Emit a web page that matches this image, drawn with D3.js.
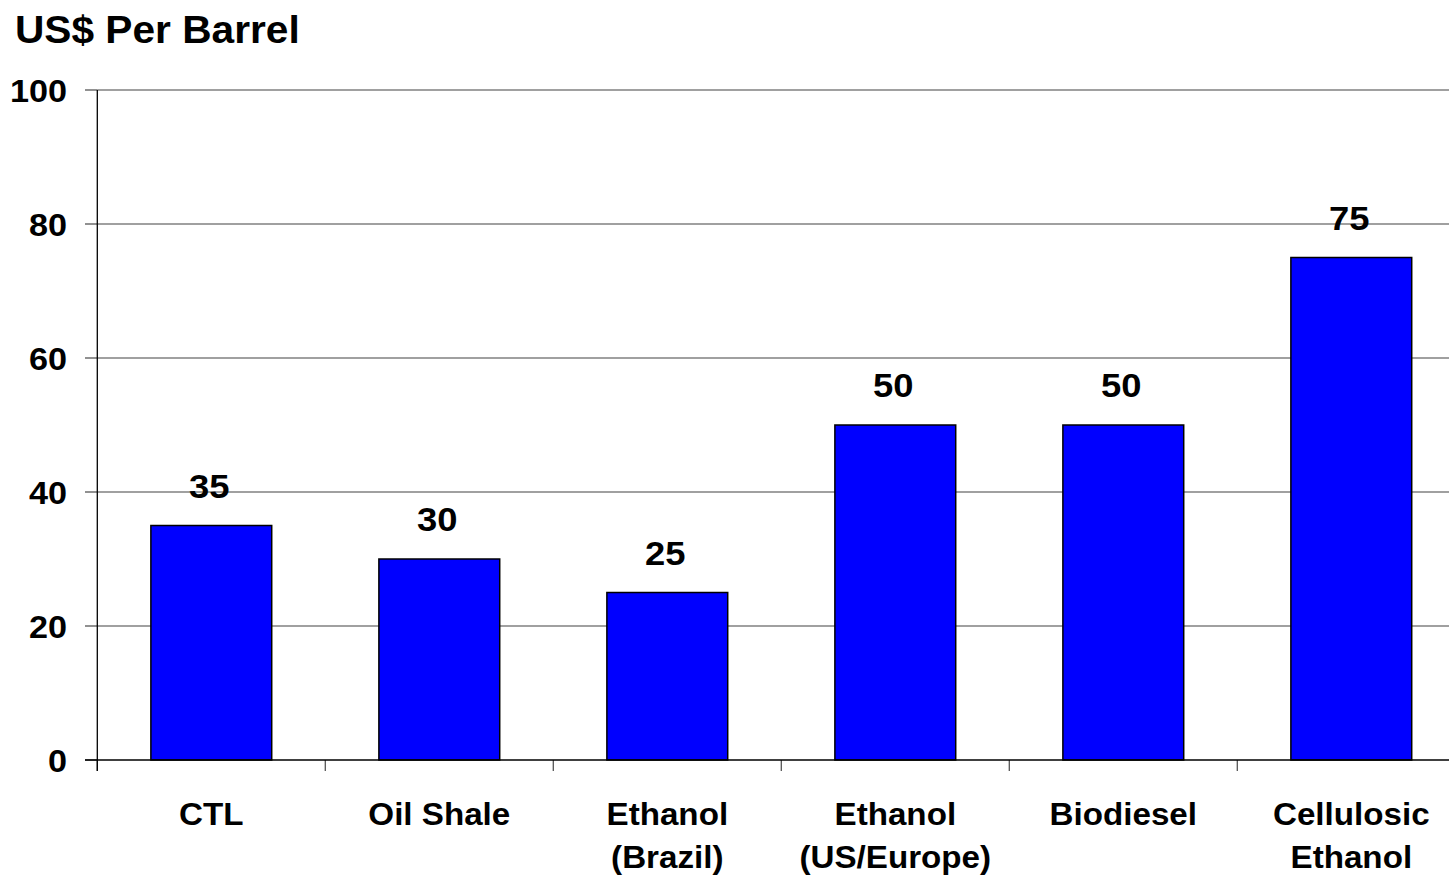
<!DOCTYPE html>
<html>
<head>
<meta charset="utf-8">
<script src="https://cdn.jsdelivr.net/npm/d3@7"></script>
<style>
  html, body { margin: 0; padding: 0; background: #fff; }
  svg { display: block; }
  text { font-family: "Liberation Sans", Arial, sans-serif; font-weight: bold; fill: #000; }
</style>
</head>
<body>
<svg id="chart" width="1449" height="877"></svg>
<script>
// Estimated production cost of alternative fuels, US$ per barrel
const categories = [
  ["CTL"],
  ["Oil Shale"],
  ["Ethanol", "(Brazil)"],
  ["Ethanol", "(US/Europe)"],
  ["Biodiesel"],
  ["Cellulosic", "Ethanol"]
];
const values = [35, 30, 25, 50, 50, 75];
const yTicks = [0, 20, 40, 60, 80, 100];
const yTitle = "US$ Per Barrel";

const svg = d3.select("#chart");
const stretch = 1.07;   // fonts are drawn slightly wide

const margin = { left: 97.3, top: 90, bottom: 760 };
const bandW = 228;
const x = d3.scaleBand()
  .domain(d3.range(categories.length))
  .range([margin.left, margin.left + bandW * categories.length])
  .paddingInner(0)
  .paddingOuter(0);
const y = d3.scaleLinear().domain([0, 100]).range([margin.bottom, margin.top]);
const barW = x.bandwidth() * 0.53;

function stretchedText(sel, px, py, size, anchor, str) {
  return sel.append("text")
    .attr("transform", `translate(${px},${py}) scale(${stretch},1)`)
    .attr("text-anchor", anchor)
    .attr("font-size", size)
    .text(str);
}

// horizontal gridlines
svg.append("g").selectAll("line")
  .data(yTicks.filter(d => d > 0))
  .join("line")
  .attr("x1", margin.left).attr("x2", 1449)
  .attr("y1", d => y(d)).attr("y2", d => y(d))
  .attr("stroke", "#808080").attr("stroke-width", 1.3);

// y tick marks
svg.append("g").selectAll("line")
  .data(yTicks)
  .join("line")
  .attr("x1", 85).attr("x2", margin.left)
  .attr("y1", d => y(d)).attr("y2", d => y(d))
  .attr("stroke", "#555").attr("stroke-width", 1.3);

// x tick marks between categories
svg.append("g").selectAll("line")
  .data(d3.range(categories.length + 1))
  .join("line")
  .attr("x1", i => margin.left + i * x.step())
  .attr("x2", i => margin.left + i * x.step())
  .attr("y1", margin.bottom).attr("y2", margin.bottom + 11)
  .attr("stroke", "#555").attr("stroke-width", 1.3);

// bars
svg.append("g").selectAll("rect")
  .data(values)
  .join("rect")
  .attr("x", (d, i) => x(i) + x.bandwidth() / 2 - barW / 2)
  .attr("width", barW)
  .attr("y", d => y(d))
  .attr("height", d => y(0) - y(d))
  .attr("fill", "#0000ff")
  .attr("stroke", "#000")
  .attr("stroke-width", 1.5);

// axis lines
svg.append("line")
  .attr("x1", margin.left).attr("x2", margin.left)
  .attr("y1", margin.top).attr("y2", margin.bottom + 11)
  .attr("stroke", "#000").attr("stroke-width", 1.3);
svg.append("line")
  .attr("x1", 85).attr("x2", 1449)
  .attr("y1", margin.bottom).attr("y2", margin.bottom)
  .attr("stroke", "#000").attr("stroke-width", 1.5);

// y tick labels
const yLabels = svg.append("g");
yTicks.forEach(t => stretchedText(yLabels, 67, y(t) + 11.5, 32, "end", t));

// value labels
const vLabels = svg.append("g");
values.forEach((v, i) =>
  stretchedText(vLabels, x(i) + x.bandwidth() / 2 - 2, y(v) - 28, 34, "middle", v));

// category labels
const cLabels = svg.append("g");
categories.forEach((lines, i) => {
  lines.forEach((ln, j) =>
    stretchedText(cLabels, x(i) + x.bandwidth() / 2, 825 + j * 43, 31, "middle", ln));
});

// axis title
stretchedText(svg, 15, 43, 38, "start", yTitle);
</script>
</body>
</html>
